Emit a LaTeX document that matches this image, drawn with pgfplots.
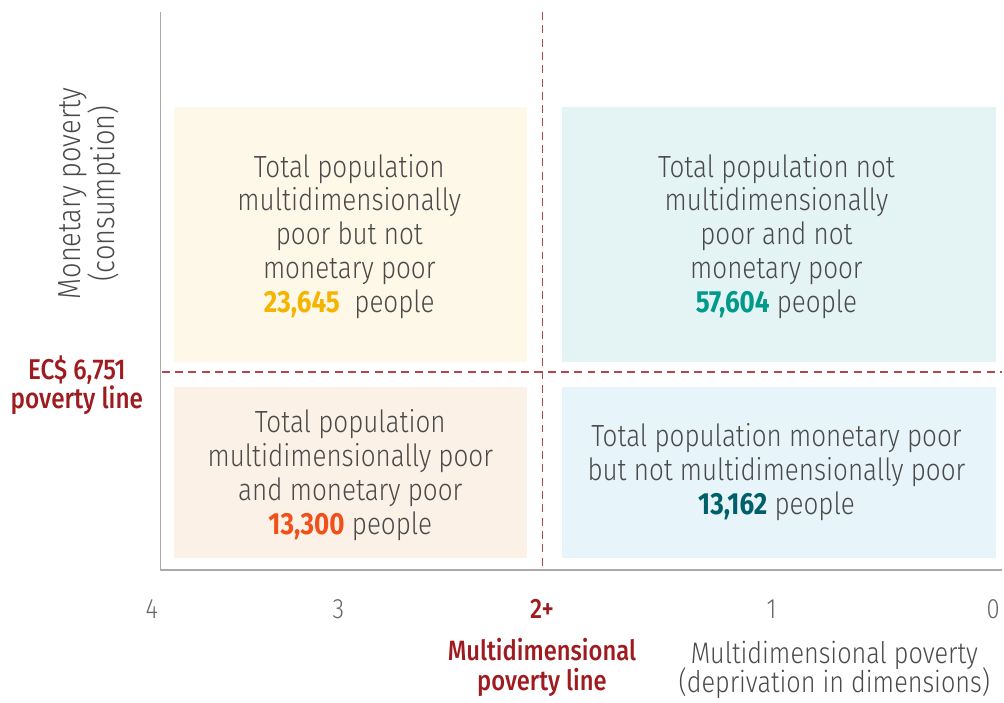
\documentclass[border=0pt]{standalone}
\usepackage{pgfplots}
\pgfplotsset{compat=1.18}
\usepackage{fontspec}
\setmainfont{Fira Sans}[UprightFont=* Light, BoldFont=* Bold, FakeStretch=0.85]
\newfontfamily\semib{Fira Sans}[UprightFont=* Medium, FakeStretch=0.85]
\definecolor{txt}{HTML}{4A4A4A}
\definecolor{tick}{HTML}{666666}
\definecolor{axisgray}{HTML}{AAAAAA}
\definecolor{redlab}{HTML}{9E1B20}
\definecolor{dashred}{HTML}{B5474B}
\definecolor{boxTL}{HTML}{FEF8E8}
\definecolor{boxTR}{HTML}{E4F3F3}
\definecolor{boxBL}{HTML}{FCF1E7}
\definecolor{boxBR}{HTML}{E7F4F9}
\definecolor{numTL}{HTML}{F5B400}
\definecolor{numTR}{HTML}{009A8A}
\definecolor{numBL}{HTML}{F0501A}
\definecolor{numBR}{HTML}{00606A}
\newcommand\tightlines{\lineskiplimit=-20pt\relax}
\begin{document}
\begin{tikzpicture}
\begin{axis}[
  x=0.75pt, y=0.75pt, y dir=reverse,
  xmin=0, xmax=1004, ymin=0, ymax=697,
  scale only axis, axis lines=none, clip=false,
  ticks=none,
]
% fix the picture frame
\path[draw=none] (axis cs:0,0) rectangle (axis cs:1004,697);
% quadrant boxes
\addplot[draw=none, fill=boxTL] coordinates {(174,107)(528,107)(528,363)(174,363)} -- cycle;
\addplot[draw=none, fill=boxTR] coordinates {(563,107)(998,107)(998,363)(563,363)} -- cycle;
\addplot[draw=none, fill=boxBL] coordinates {(174,388)(528,388)(528,559)(174,559)} -- cycle;
\addplot[draw=none, fill=boxBR] coordinates {(563,388)(998,388)(998,559)(563,559)} -- cycle;
% axes
\addplot[axisgray, line width=1.2pt] coordinates {(161,12)(161,571)(1004,571)};
% poverty lines
\addplot[dashred, line width=1.4pt, dash pattern=on 6pt off 4pt] coordinates {(543.5,12)(543.5,570)};
\addplot[dashred, line width=1.4pt, dash pattern=on 6pt off 4pt] coordinates {(162,372.5)(1004,372.5)};
% box texts
\node[txt, align=center, font=\fontsize{23}{25.5}\selectfont] at (axis cs:350,237)
  {Total population\\multidimensionally\\poor but not\\monetary poor\\{\bfseries\color{numTL}23,645}~ people};
\node[txt, align=center, font=\fontsize{23}{25.5}\selectfont] at (axis cs:778,237)
  {Total population not\\multidimensionally\\poor and not\\monetary poor\\{\bfseries\color{numTR}57,604} people};
\node[txt, align=center, font=\fontsize{23}{25.5}\selectfont] at (axis cs:351,476)
  {Total population\\multidimensionally poor\\and monetary poor\\{\bfseries\color{numBL}13,300} people};
\node[txt, align=center, font=\fontsize{23}{25.5}\selectfont] at (axis cs:778,473)
  {Total population monetary poor\\but not multidimensionally poor\\{\bfseries\color{numBR}13,162} people};
% y label
\node[txt, align=center, rotate=90, font=\fontsize{24}{24}\selectfont] at (axis cs:90,194)
  {Monetary poverty\\(consumption)};
% poverty line label
\node[redlab, align=center, font=\semib\fontsize{21.5}{21.5}\selectfont] at (axis cs:77,386)
  {EC\$ 6,751\\poverty line};
% x tick labels
\node[tick, font=\fontsize{21}{21}\selectfont] at (axis cs:152,610) {4};
\node[tick, font=\fontsize{21}{21}\selectfont] at (axis cs:339,610) {3};
\node[redlab, font=\semib\fontsize{21}{21}\selectfont] at (axis cs:543,610) {2+};
\node[tick, font=\fontsize{21}{21}\selectfont] at (axis cs:773,610) {1};
\node[tick, font=\fontsize{21}{21}\selectfont] at (axis cs:995,610) {0};
% x labels
\node[redlab, align=center, font=\semib\fontsize{21}{22.5}\selectfont] at (axis cs:543,669)
  {Multidimensional\\poverty line};
\node[txt, align=center, font=\fontsize{22.3}{21.75}\selectfont\tightlines] at (axis cs:836,671)
  {Multidimensional poverty\\(deprivation in dimensions)};
\end{axis}
\end{tikzpicture}
\end{document}
